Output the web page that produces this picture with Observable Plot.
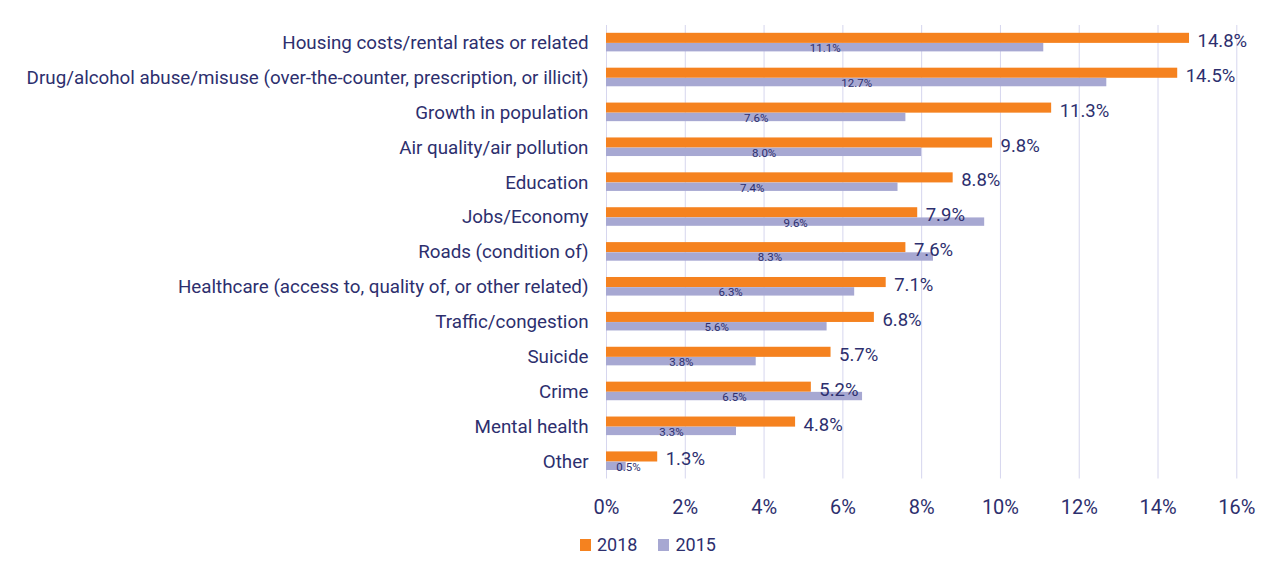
<!DOCTYPE html>
<html>
<head>
<meta charset="utf-8">
<script src="https://cdn.jsdelivr.net/npm/d3@7"></script>
<script src="https://cdn.jsdelivr.net/npm/@observablehq/plot@0.6"></script>
<style>
  body { margin: 0; background: #ffffff; font-family: Roboto, sans-serif; }
  #wrap { position: relative; width: 1275px; height: 575px; }
  #legend { position: absolute; top: 534px; left: 580px; display: flex; align-items: center; font-size: 18px; color: #2d2f6e; }
  .sw { width: 11px; height: 12px; display: inline-block; margin-right: 6px; }
  .item { display: flex; align-items: center; margin-right: 21px; }
</style>
</head>
<body>
<div id="wrap"><div id="chart"></div><div id="legend"></div></div>
<script>
const categories = [
  "Housing costs/rental rates or related",
  "Drug/alcohol abuse/misuse (over-the-counter, prescription, or illicit)",
  "Growth in population",
  "Air quality/air pollution",
  "Education",
  "Jobs/Economy",
  "Roads (condition of)",
  "Healthcare (access to, quality of, or other related)",
  "Traffic/congestion",
  "Suicide",
  "Crime",
  "Mental health",
  "Other"
];
const values2018 = [14.8, 14.5, 11.3, 9.8, 8.8, 7.9, 7.6, 7.1, 6.8, 5.7, 5.2, 4.8, 1.3];
const values2015 = [11.1, 12.7, 7.6, 8.0, 7.4, 9.6, 8.3, 6.3, 5.6, 3.8, 6.5, 3.3, 0.5];
const seriesNames = ["2018", "2015"];
const seriesColors = ["#f5821f", "#a7a8d2"];
const xTicks = [0, 2, 4, 6, 8, 10, 12, 14, 16];

const textColor = "#2d2f6e";
const d18 = categories.map((c, i) => ({category: c, value: values2018[i]}));
const d15 = categories.map((c, i) => ({category: c, value: values2015[i]}));
const fmt = d => d.value.toFixed(1) + "%";

const chart = Plot.plot({
  width: 1275,
  height: 530,
  marginLeft: 606,
  marginRight: 38.7,
  marginTop: 25,
  marginBottom: 51.5,
  style: {fontFamily: "Roboto, sans-serif", color: textColor, background: "transparent"},
  x: {domain: [0, 16]},
  y: {domain: categories, padding: 0, round: false},
  marks: [
    Plot.gridX(xTicks, {stroke: "#d6d6ee", strokeOpacity: 1, strokeWidth: 1}),
    Plot.barX(d18, {x: "value", y: "category", fill: seriesColors[0], insetTop: 7.8, insetBottom: 17}),
    Plot.barX(d15, {x: "value", y: "category", fill: seriesColors[1], insetTop: 18, insetBottom: 8.5}),
    Plot.text(d18, {x: "value", y: "category", text: fmt, textAnchor: "start", dx: 8, dy: -2, fontSize: 18.5, fill: textColor}),
    Plot.text(d15.filter(d => d.value >= 1), {x: d => d.value / 2, y: "category", text: fmt, textAnchor: "middle", dy: 5.5, fontSize: 11.5, fill: textColor}),
    Plot.text(d15.filter(d => d.value < 1), {x: d => d.value / 2, y: "category", text: fmt, textAnchor: "start", dy: 5.5, fontSize: 11.5, fill: textColor}),
    Plot.axisY({tickSize: 0, tickPadding: 18, fontSize: 18.8, label: null, fill: textColor}),
    Plot.axisX(xTicks, {tickSize: 0, tickPadding: 21, fontSize: 20, label: null, tickFormat: d => d + "%", fill: textColor})
  ]
});
document.getElementById("chart").appendChild(chart);

const legend = document.getElementById("legend");
seriesNames.forEach((name, i) => {
  const item = document.createElement("div");
  item.className = "item";
  const sw = document.createElement("span");
  sw.className = "sw";
  sw.style.background = seriesColors[i];
  item.appendChild(sw);
  item.appendChild(document.createTextNode(name));
  legend.appendChild(item);
});
</script>
</body>
</html>
